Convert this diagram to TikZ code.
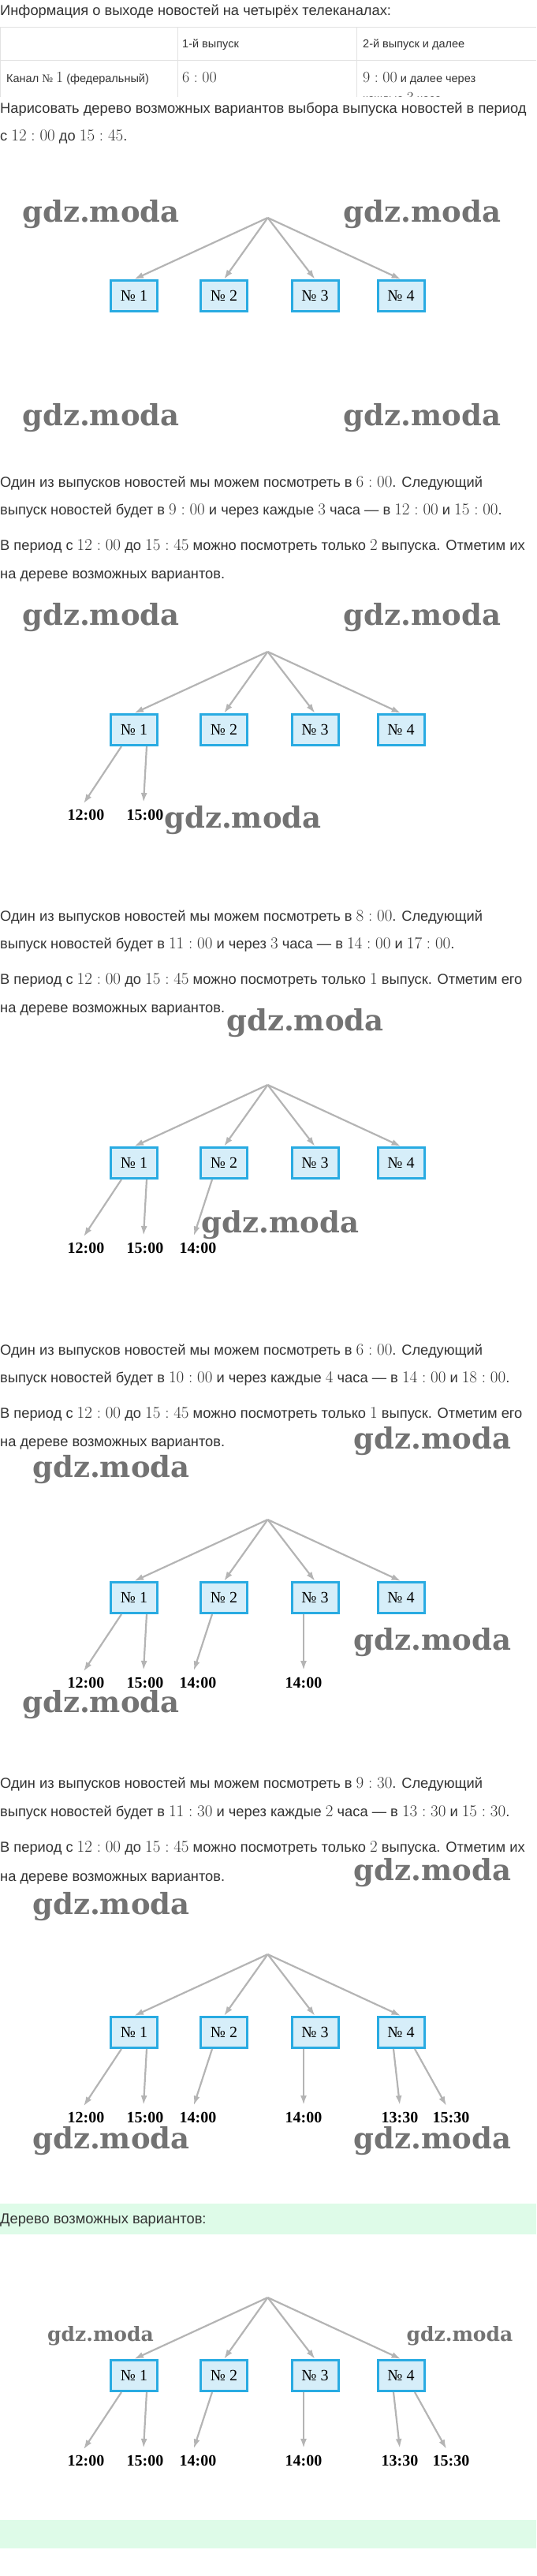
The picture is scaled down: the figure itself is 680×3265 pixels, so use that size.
\RequirePackage{fix-cm}
\documentclass[tikz,border=0pt]{standalone}
\usepackage[no-math]{fontspec}
\setmainfont{Liberation Sans}
\newfontfamily\treefont{Liberation Serif}
\newfontfamily\wmfont{DejaVu Serif}
\usetikzlibrary{arrows.meta, positioning}
\DeclareMathSizes{18.3}{21}{15}{12}
\DeclareMathSizes{14.5}{20}{14}{10}
\definecolor{textgray}{RGB}{51,51,51}
\definecolor{boxblue}{RGB}{41,171,226}
\definecolor{boxfill}{RGB}{214,238,249}
\definecolor{arrgray}{RGB}{180,180,180}
\definecolor{wmgray}{RGB}{115,115,115}
\definecolor{bandgreen}{RGB}{222,251,232}
\definecolor{tablegray}{RGB}{226,226,226}

\tikzset{
  txt/.style={anchor=base west, inner sep=0pt, text=textgray, font=\fontsize{18.3}{22}\selectfont},
  cell/.style={anchor=base west, inner sep=0pt, text=textgray, font=\fontsize{14.5}{18}\selectfont},
  box/.style={draw=boxblue, line width=3pt, fill=boxfill, minimum width=59pt, minimum height=39pt, inner sep=0pt, font=\treefont\fontsize{20}{24}\selectfont},
  leaf/.style={inner sep=0pt, font=\treefont\bfseries\fontsize{20}{24}\selectfont},
  arr/.style={-{Latex[length=12pt,width=8pt]}, line width=2.2pt, draw=arrgray},
  leafarr/.style={arr, shorten >=9pt},
  wm/.style={inner sep=0pt, text=wmgray, font=\wmfont\bfseries\fontsize{37}{40}\selectfont},
  wmsmall/.style={inner sep=0pt, text=wmgray, font=\wmfont\bfseries\fontsize{25}{28}\selectfont},
}

\begin{document}
\begin{tikzpicture}[x=1pt, y=-1pt]
  \useasboundingbox (0,0) rectangle (680,3265);

  % --- task and table ---
  \node[txt] (head) at (0,20) {Информация о выходе новостей на четырёх телеканалах:};
  \begin{scope}
    \clip (0,34) rectangle (680,123);
    \draw[tablegray, line width=1pt] (0,35) -- (680,35) (0,77) -- (680,77);
    \draw[tablegray, line width=1pt] (0.5,35) -- (0.5,123) (225.5,35) -- (225.5,123) (452,35) -- (452,123);
    \node[cell] (c12) at (231,61) {1-й выпуск};
    \node[cell] (c13) at (460,61) {2-й выпуск и далее};
    \node[cell] (c21) at (8,105) {Канал {\treefont №}~$1$ (федеральный)};
    \node[cell] (c22) at (231,105) {$6:00$};
    \node[cell] (c23) at (460,105) {$9:00$ и далее через};
    \node[cell] (c33) at (460,131) {каждые $3$ часа};
  \end{scope}
  \node[txt] (task1) at (0,143) {Нарисовать дерево возможных вариантов выбора выпуска новостей в период};
  \node[txt] (task2) at (0,178) {с $12:00$ до $15:45$.};

  % --- channel 1 ---
  \node[txt] (s2a) at (0,617) {Один из выпусков новостей мы можем посмотреть в $6:00$. Следующий};
  \node[txt] (s2b) at (0,652) {выпуск новостей будет в $9:00$ и через каждые $3$ часа — в $12:00$ и $15:00$.};
  \node[txt] (s2c) at (0,697) {В период с $12:00$ до $15:45$ можно посмотреть только $2$ выпуска. Отметим их};
  \node[txt] (s2d) at (0,733) {на дереве возможных вариантов.};

  % --- channel 2 ---
  \node[txt] (s3a) at (0,1167) {Один из выпусков новостей мы можем посмотреть в $8:00$. Следующий};
  \node[txt] (s3b) at (0,1202) {выпуск новостей будет в $11:00$ и через $3$ часа — в $14:00$ и $17:00$.};
  \node[txt] (s3c) at (0,1247) {В период с $12:00$ до $15:45$ можно посмотреть только $1$ выпуск. Отметим его};
  \node[txt] (s3d) at (0,1283) {на дереве возможных вариантов.};

  % --- channel 3 ---
  \node[txt] (s4a) at (0,1717) {Один из выпусков новостей мы можем посмотреть в $6:00$. Следующий};
  \node[txt] (s4b) at (0,1752) {выпуск новостей будет в $10:00$ и через каждые $4$ часа — в $14:00$ и $18:00$.};
  \node[txt] (s4c) at (0,1797) {В период с $12:00$ до $15:45$ можно посмотреть только $1$ выпуск. Отметим его};
  \node[txt] (s4d) at (0,1833) {на дереве возможных вариантов.};

  % --- channel 4 ---
  \node[txt] (s5a) at (0,2266) {Один из выпусков новостей мы можем посмотреть в $9:30$. Следующий};
  \node[txt] (s5b) at (0,2302) {выпуск новостей будет в $11:30$ и через каждые $2$ часа — в $13:30$ и $15:30$.};
  \node[txt] (s5c) at (0,2347) {В период с $12:00$ до $15:45$ можно посмотреть только $2$ выпуска. Отметим их};
  \node[txt] (s5d) at (0,2384) {на дереве возможных вариантов.};

  % --- answer ---
  \fill[bandgreen] (0,2793) rectangle (680,2831.5);
  \node[txt] (answer) at (0,2818) {Дерево возможных вариантов:};
  \fill[bandgreen] (0,3194) rectangle (680,3230);

  % --- trees: root and four channels ---
  \foreach \t/\ry in {1/276, 2/826, 3/1375, 4/1926, 5/2477, 6/2912}{
    \coordinate (r\t) at (339.5,\ry);
    \node[box] (b\t1) at (170,\ry+99) {№ 1};
    \node[box] (b\t2) at (284,\ry+99) {№ 2};
    \node[box] (b\t3) at (399.5,\ry+99) {№ 3};
    \node[box] (b\t4) at (508.5,\ry+99) {№ 4};
    \foreach \k in {1,...,4} \draw[arr] (r\t) -- (b\t\k.north);
  }

  % --- news times under each channel ---
  \foreach \t/\ry in {2/826, 3/1375, 4/1926, 5/2477, 6/2912}{
    \node[leaf] (t\t1) at (109,\ry+207) {12:00};
    \node[leaf] (t\t2) at (184,\ry+207) {15:00};
    \draw[leafarr] ([xshift=-16pt]b\t1.south) -- ([xshift=-8pt]t\t1.north);
    \draw[leafarr] ([xshift=16pt]b\t1.south) -- ([xshift=-2.5pt]t\t2.north);
  }
  \foreach \t/\ry in {3/1375, 4/1926, 5/2477, 6/2912}{
    \node[leaf] (t\t3) at (251,\ry+207) {14:00};
    \draw[leafarr] ([xshift=-15pt]b\t2.south) -- ([xshift=-8pt]t\t3.north);
  }
  \foreach \t/\ry in {4/1926, 5/2477, 6/2912}{
    \node[leaf] (t\t4) at (385,\ry+207) {14:00};
    \draw[leafarr] ([xshift=-14.5pt]b\t3.south) -- (t\t4.north);
  }
  \foreach \t/\ry in {5/2477, 6/2912}{
    \node[leaf] (t\t5) at (507,\ry+207) {13:30};
    \node[leaf] (t\t6) at (572,\ry+207) {15:30};
    \draw[leafarr] ([xshift=-9.5pt]b\t4.south) -- ([xshift=1pt]t\t5.north);
    \draw[leafarr] ([xshift=17.5pt]b\t4.south) -- ([xshift=-1.5pt]t\t6.north);
  }

  % --- watermarks ---
  \node[wm] (wm1) at (128,272) {gdz.moda};
  \node[wm] (wm2) at (535.5,272) {gdz.moda};
  \node[wm] (wm3) at (128,530) {gdz.moda};
  \node[wm] (wm4) at (535.5,530) {gdz.moda};
  \node[wm] (wm5) at (128,783) {gdz.moda};
  \node[wm] (wm6) at (535.5,783) {gdz.moda};
  \node[wm] (wm7) at (308,1040) {gdz.moda};
  \node[wm] (wm8) at (387,1297) {gdz.moda};
  \node[wm] (wm9) at (355.5,1553) {gdz.moda};
  \node[wm] (wm10) at (548.5,1827) {gdz.moda};
  \node[wm] (wm11) at (141,1863) {gdz.moda};
  \node[wm] (wm12) at (548.5,2082) {gdz.moda};
  \node[wm] (wm13) at (128,2161) {gdz.moda};
  \node[wm] (wm14) at (548.5,2374) {gdz.moda};
  \node[wm] (wm15) at (141,2417) {gdz.moda};
  \node[wm] (wm16) at (141,2714) {gdz.moda};
  \node[wm] (wm17) at (548.5,2714) {gdz.moda};
  \node[wmsmall] (wm18) at (127.5,2961) {gdz.moda};
  \node[wmsmall] (wm19) at (583,2961) {gdz.moda};
\end{tikzpicture}
\end{document}
